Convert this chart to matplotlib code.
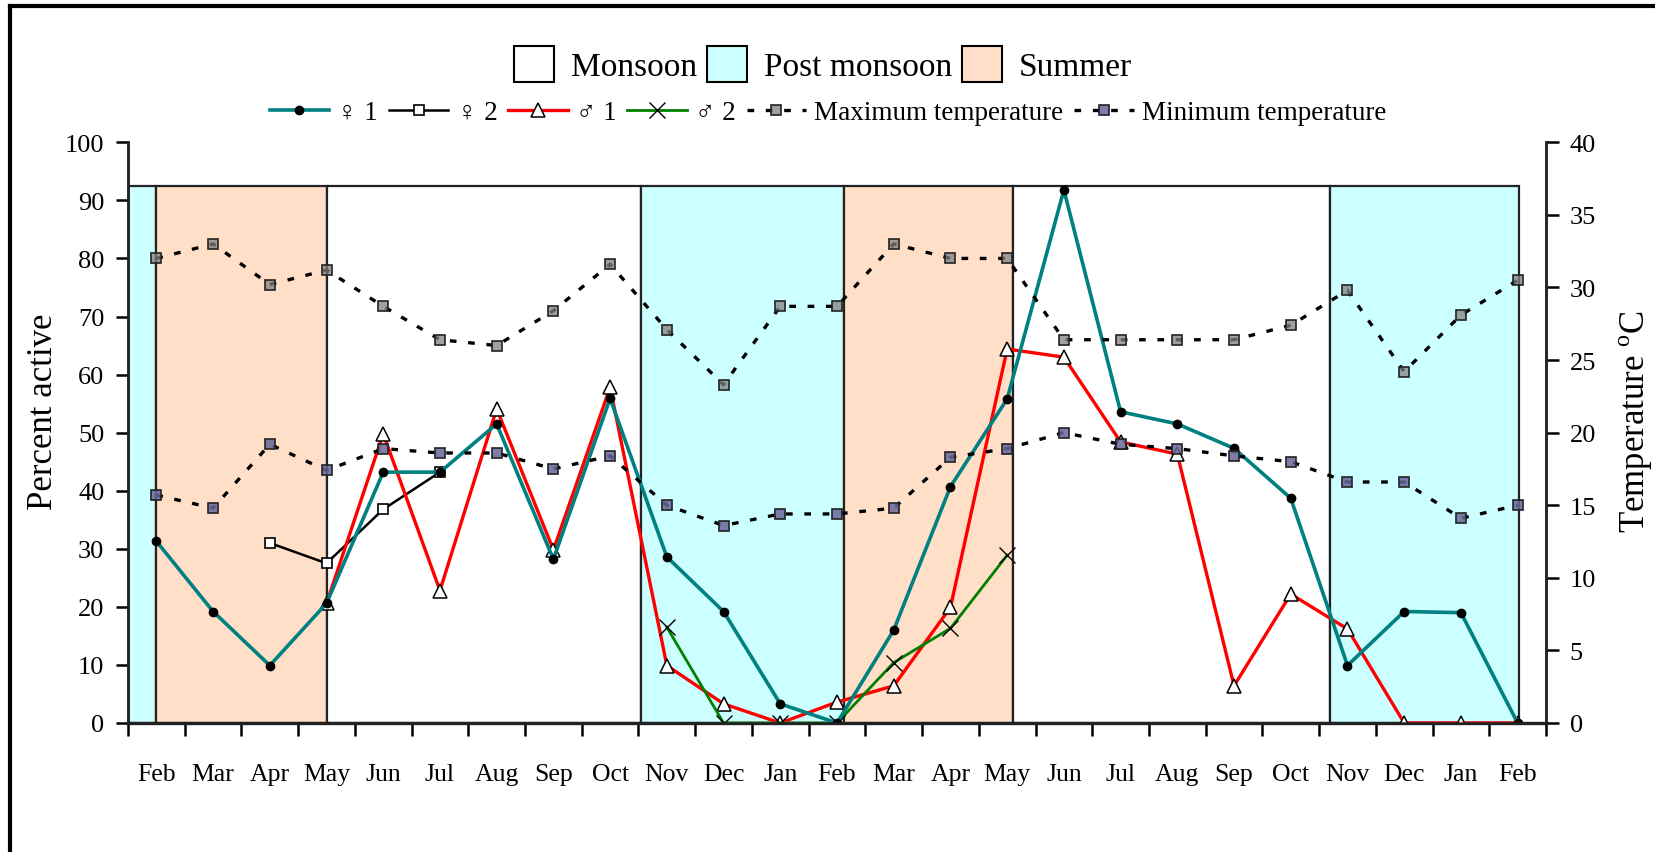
import numpy as np
import matplotlib
matplotlib.use("Agg")
import matplotlib.pyplot as plt
from matplotlib.patches import Patch, Rectangle
from matplotlib.lines import Line2D

plt.rcParams['font.family'] = ['Liberation Serif', 'DejaVu Sans']
plt.rcParams['mathtext.fontset'] = 'custom'
plt.rcParams['mathtext.rm'] = 'Liberation Serif'

nan = np.nan
months = ['Feb', 'Mar', 'Apr', 'May', 'Jun', 'Jul', 'Aug', 'Sep', 'Oct', 'Nov', 'Dec', 'Jan',
          'Feb', 'Mar', 'Apr', 'May', 'Jun', 'Jul', 'Aug', 'Sep', 'Oct', 'Nov', 'Dec', 'Jan', 'Feb']

# percent active
female1 = [31.3, 19.2, 9.9, 20.6, 43.2, 43.2, 51.5, 28.2, 55.9, 28.6, 19.2, 3.3, 0.0,
           16.0, 40.7, 55.8, 91.8, 53.6, 51.5, 47.3, 38.7, 9.9, 19.2, 19.0, 0.0]
female2 = [nan, nan, 31.0, 27.5, 36.8, 43.2, nan, nan, nan, nan, nan, nan, nan,
           nan, nan, nan, nan, nan, nan, nan, nan, nan, nan, nan, nan]
male1 = [nan, nan, nan, 20.6, 49.8, 22.8, 54.1, 29.8, 57.8, 9.9, 3.3, 0.0, 3.6,
         6.4, 19.9, 64.4, 63.0, 48.4, 46.3, 6.4, 22.2, 16.2, 0.0, 0.0, 0.0]
male2 = [nan, nan, nan, nan, nan, nan, nan, nan, nan, 16.5, 0.0, 0.0, 0.0,
         10.4, 16.3, 28.9, nan, nan, nan, nan, nan, nan, nan, nan, nan]

# temperature (deg C)
max_temp = [32.0, 33.0, 30.2, 31.2, 28.7, 26.4, 26.0, 28.4, 31.6, 27.1, 23.3, 28.7, 28.7,
            33.0, 32.0, 32.0, 26.4, 26.4, 26.4, 26.4, 27.4, 29.8, 24.2, 28.1, 30.5]
min_temp = [15.7, 14.8, 19.2, 17.4, 18.9, 18.6, 18.6, 17.5, 18.4, 15.0, 13.6, 14.4, 14.4,
            14.8, 18.3, 18.9, 20.0, 19.2, 18.9, 18.4, 18.0, 16.6, 16.6, 14.1, 15.0]

# season bands: start / end in category units
season_start = [-0.5, 0.0, 3.0, 8.55, 12.12, 15.1, 20.69]
season_end = [0.0, 3.0, 8.55, 12.12, 15.1, 20.69, 24.03]
season_name = ['Post monsoon', 'Summer', 'Monsoon', 'Post monsoon', 'Summer', 'Monsoon', 'Post monsoon']
season_top = 92.5
season_color = {'Monsoon': '#ffffff', 'Post monsoon': '#ccffff', 'Summer': '#ffdfc8'}

W, H = 1656, 853
fig = plt.figure(figsize=(W / 100, H / 100), dpi=100)
ax = fig.add_axes([128 / W, (H - 724) / H, (1546 - 128) / W, (724 - 143.3) / H])
ax2 = ax.twinx()

x = np.arange(len(months))

for s, e, nm in zip(season_start, season_end, season_name):
    ax.add_patch(Rectangle((s, 0), e - s, season_top, facecolor=season_color[nm],
                           edgecolor='#222222', lw=1.6, zorder=1))

l_f1, = ax.plot(x, female1, color='#008080', lw=2.6, marker='o', ms=6,
                mfc='black', mec='black', zorder=5)
l_f2, = ax.plot(x, female2, color='black', lw=1.8, marker='s', ms=7,
                mfc='white', mec='black', mew=1.2, zorder=4)
l_m1, = ax.plot(x, male1, color='#ff0000', lw=2.4, marker='^', ms=10,
                mfc='white', mec='black', mew=1.1, zorder=4)
l_m2, = ax.plot(x, male2, color='#008000', lw=2.0, marker='x', ms=11,
                mec='black', mew=1.0, zorder=4)

l_tmax, = ax2.plot(x, max_temp, color='black', lw=2.4, ls=(0, (2, 3.5)), marker='s', ms=7.5,
                   mfc=(0.5, 0.5, 0.5, 0.75), mec='#222222', mew=1.2)
l_tmin, = ax2.plot(x, min_temp, color='black', lw=2.4, ls=(0, (2, 3.5)), marker='s', ms=7.5,
                   mfc=(0.4, 0.4, 0.6, 0.85), mec='#222222', mew=1.2)

ax.set_xlim(-0.5, len(months) - 0.5)
ax.set_ylim(0, 100)
ax2.set_ylim(0, 40)

ax.set_xticks(x)
ax.set_xticklabels(months, fontsize=18.5)
ax.set_xticks(np.arange(-0.5, len(months) + 0.5, 1), minor=True)
ax.tick_params(axis='x', which='major', length=0, pad=29)
ax.tick_params(axis='x', which='minor', length=9, width=1.8, direction='out')
ax.set_yticks(np.arange(0, 101, 10))
ax.tick_params(axis='y', length=9, width=1.8, direction='out', labelsize=19, pad=8)
ax2.set_yticks(np.arange(0, 41, 5))
ax2.tick_params(axis='y', length=9, width=1.8, direction='out', labelsize=19, pad=8)

for a in (ax, ax2):
    a.spines['top'].set_visible(False)
    for sp in ('left', 'right', 'bottom'):
        a.spines[sp].set_linewidth(1.8)
        a.spines[sp].set_color('#222222')
ax.spines['bottom'].set_linewidth(2.4)

ax.set_ylabel('Percent active', fontsize=25)
ax.yaxis.set_label_coords(-0.048, 0.537)
ax2.set_ylabel('Temperature $^{\\rm o}$C', fontsize=25)
ax2.yaxis.set_label_coords(1.05, 0.52)

# legends
season_handles = [Patch(facecolor=season_color[k], edgecolor='black', lw=1.5)
                  for k in ['Monsoon', 'Post monsoon', 'Summer']]
fig.legend(season_handles, ['Monsoon', 'Post monsoon', 'Summer'], loc='center',
           bbox_to_anchor=(0.497, 1 - 65 / H), ncol=3, frameon=False, fontsize=24,
           handlelength=1.2, handleheight=1.3, columnspacing=0.3, handletextpad=0.5)
fig.legend([l_f1, l_f2, l_m1, l_m2, l_tmax, l_tmin],
           ['\u2640 1', '\u2640 2', '\u2642 1', '\u2642 2',
            'Maximum temperature', 'Minimum temperature'],
           loc='center', bbox_to_anchor=(0.5, 1 - 114 / H), ncol=6, frameon=False,
           fontsize=19.5, handlelength=2.2, columnspacing=0.4, handletextpad=0.3,
           numpoints=1)

# outer frame (top and left)
fig.add_artist(Line2D([10 / W, 10 / W], [0, 1 - 7 / H], color='black', lw=3,
                      transform=fig.transFigure))
fig.add_artist(Line2D([10 / W, 1], [1 - 7 / H, 1 - 7 / H], color='black', lw=3,
                      transform=fig.transFigure))

fig.savefig('out.png', dpi=100)
